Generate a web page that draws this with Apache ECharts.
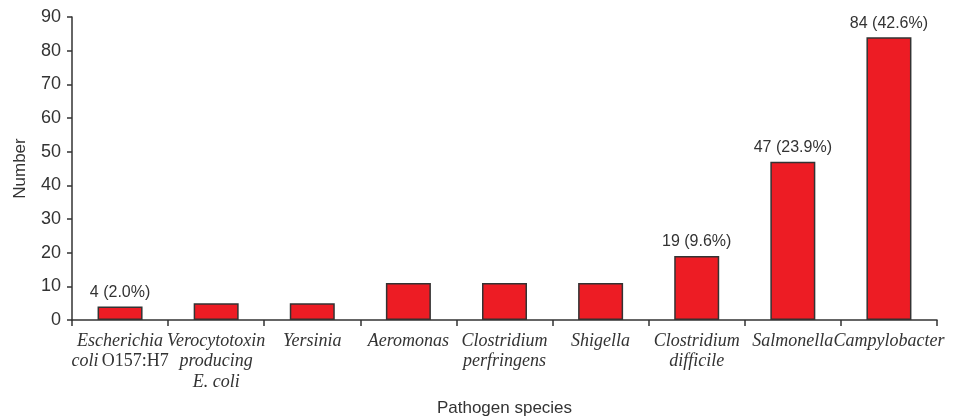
<!DOCTYPE html>
<html><head><meta charset="utf-8">
<script src="https://cdn.jsdelivr.net/npm/echarts@6/dist/echarts.min.js"></script>
<style>html,body{margin:0;padding:0;background:#fff}#c{width:964px;height:420px}</style>
</head><body><div id="c"></div>
<script>
var categories = ['Escherichia coli O157:H7','Verocytotoxin producing E. coli','Yersinia','Aeromonas','Clostridium perfringens','Shigella','Clostridium difficile','Salmonella','Campylobacter'];
var counts = [4, 5, 5, 11, 11, 11, 19, 47, 84];
var labelled = [true, false, false, false, false, false, true, true, true];
var yTicks = [0, 10, 20, 30, 40, 50, 60, 70, 80, 90];
var total = counts.reduce(function(a,b){return a+b;},0);

var labelMap = {
  'Escherichia coli O157:H7': '{i|Escherichia}\n{i|coli} {n|O157:H7}',
  'Verocytotoxin producing E. coli': '{i|Verocytotoxin}\n{i|producing}\n{i|E. coli}',
  'Clostridium perfringens': '{i|Clostridium}\n{i|perfringens}',
  'Clostridium difficile': '{i|Clostridium}\n{i|difficile}'
};

var chart = echarts.init(document.getElementById('c'));
chart.setOption({
  animation: false,
  grid: {left: 72, right: 27, top: 17, bottom: 100, containLabel: false, outerBoundsMode: 'none'},
  xAxis: {
    type: 'category',
    data: categories,
    name: 'Pathogen species',
    nameLocation: 'middle',
    nameGap: 80,
    nameTextStyle: {fontFamily: 'Liberation Sans, Arial', fontSize: 17, color: '#333'},
    axisLine: {lineStyle: {color: '#333', width: 1.5}},
    axisTick: {show: true, length: 6, alignWithLabel: false, lineStyle: {color: '#333', width: 1.5}},
    axisLabel: {
      interval: 0,
      margin: 11,
      lineHeight: 20.5,
      hideOverlap: false,
      formatter: function(v){ return labelMap[v] || ('{i|' + v + '}'); },
      rich: {
        i: {fontFamily: 'Liberation Serif, Times New Roman', fontStyle: 'italic', fontSize: 18, color: '#333', lineHeight: 20.5},
        n: {fontFamily: 'Liberation Serif, Times New Roman', fontStyle: 'normal', fontSize: 18, color: '#333', lineHeight: 20.5}
      }
    }
  },
  yAxis: {
    type: 'value',
    min: yTicks[0],
    max: yTicks[yTicks.length-1],
    interval: 10,
    name: 'Number',
    nameLocation: 'middle',
    nameGap: 43,
    nameRotate: 90,
    nameTextStyle: {fontFamily: 'Liberation Sans, Arial', fontSize: 17, color: '#333'},
    splitLine: {show: false},
    axisLine: {show: true, lineStyle: {color: '#333', width: 1.5}},
    axisTick: {show: true, length: 5, lineStyle: {color: '#333', width: 1.5}},
    axisLabel: {fontFamily: 'Liberation Sans, Arial', fontSize: 18, color: '#333', margin: 11}
  },
  series: [{
    type: 'bar',
    barWidth: 45,
    data: counts.map(function(v, i){
      return {
        value: v,
        label: {
          show: labelled[i],
          position: 'top',
          distance: 6,
          formatter: v + ' (' + (v / total * 100).toFixed(1) + '%)',
          fontFamily: 'Liberation Sans, Arial',
          fontSize: 16,
          color: '#333'
        }
      };
    }),
    itemStyle: {color: '#ED1C24', borderColor: '#333', borderWidth: 1.5}
  }]
});
</script>
</body></html>
